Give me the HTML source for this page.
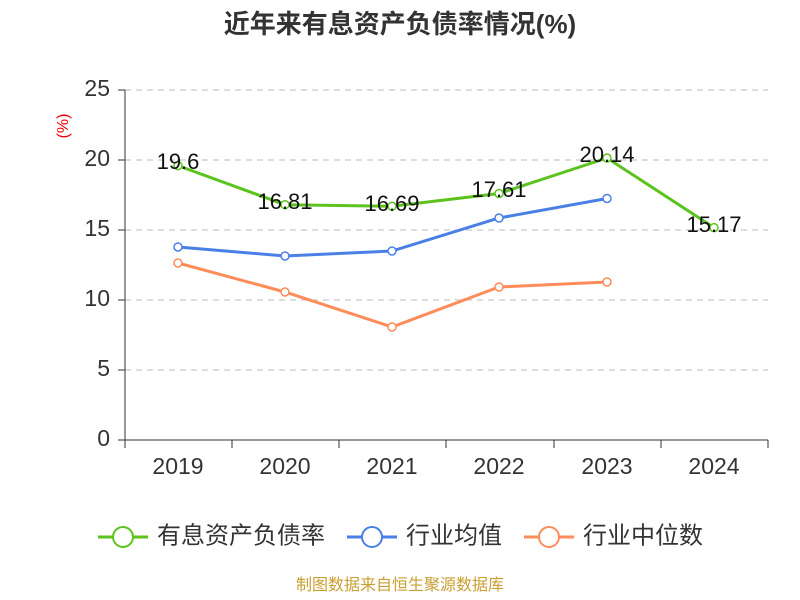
<!DOCTYPE html>
<html><head><meta charset="utf-8"><style>
html,body{margin:0;padding:0;background:#fff;}
svg{display:block;font-family:"Liberation Sans","Noto Sans CJK SC",sans-serif;}
</style></head><body>
<svg width="800" height="600" viewBox="0 0 800 600" xmlns="http://www.w3.org/2000/svg">
<text x="400" y="33" text-anchor="middle" font-size="26" font-weight="bold" fill="#333">近年来有息资产负债率情况(%)</text>
<text x="64" y="126" font-size="16" fill="#e00" transform="rotate(-90 64 126)" text-anchor="middle" dominant-baseline="middle">(%)</text>
<g stroke="#bbb" stroke-dasharray="6,5" stroke-width="1">
<line x1="125" y1="90" x2="768" y2="90"/><line x1="125" y1="160" x2="768" y2="160"/>
<line x1="125" y1="230" x2="768" y2="230"/><line x1="125" y1="300" x2="768" y2="300"/>
<line x1="125" y1="370" x2="768" y2="370"/>
</g>
<g stroke="#333" stroke-width="1">
<line x1="125" y1="90" x2="125" y2="440"/>
<line x1="125" y1="440" x2="768" y2="440"/>
<line x1="118" y1="90" x2="125" y2="90"/><line x1="118" y1="160" x2="125" y2="160"/>
<line x1="118" y1="230" x2="125" y2="230"/><line x1="118" y1="300" x2="125" y2="300"/>
<line x1="118" y1="370" x2="125" y2="370"/><line x1="118" y1="440" x2="125" y2="440"/>
<line x1="125" y1="440" x2="125" y2="448"/><line x1="232" y1="440" x2="232" y2="448"/>
<line x1="339" y1="440" x2="339" y2="448"/><line x1="446" y1="440" x2="446" y2="448"/>
<line x1="554" y1="440" x2="554" y2="448"/><line x1="661" y1="440" x2="661" y2="448"/>
<line x1="768" y1="440" x2="768" y2="448"/>
</g>
<g font-size="23" fill="#333" text-anchor="end" dominant-baseline="middle">
<text x="110" y="90">25</text><text x="110" y="160">20</text><text x="110" y="230">15</text>
<text x="110" y="300">10</text><text x="110" y="370">5</text><text x="110" y="440">0</text>
</g>
<g font-size="23" fill="#333" text-anchor="middle">
<text x="178" y="474">2019</text><text x="285" y="474">2020</text><text x="392" y="474">2021</text>
<text x="499" y="474">2022</text><text x="607" y="474">2023</text><text x="714" y="474">2024</text>
</g>
<g fill="none" stroke-width="3">
<polyline stroke="#ff8c5a" points="178,263 285,292 392,327 499,287 607,282"/>
<polyline stroke="#4a80e6" points="178,247 285,256 392,251 499,218 607,198.5"/>
<polyline stroke="#5cc31e" points="178,165.6 285,204.7 392,206.3 499,193.5 607,158 714,227.6"/>
</g>
<g fill="#fff" stroke-width="1.5">
<g stroke="#ff8c5a"><circle cx="178" cy="263" r="4"/><circle cx="285" cy="292" r="4"/><circle cx="392" cy="327" r="4"/><circle cx="499" cy="287" r="4"/><circle cx="607" cy="282" r="4"/></g>
<g stroke="#4a80e6"><circle cx="178" cy="247" r="4"/><circle cx="285" cy="256" r="4"/><circle cx="392" cy="251" r="4"/><circle cx="499" cy="218" r="4"/><circle cx="607" cy="198.5" r="4"/></g>
<g stroke="#5cc31e"><circle cx="178" cy="165.6" r="4"/><circle cx="285" cy="204.7" r="4"/><circle cx="392" cy="206.3" r="4"/><circle cx="499" cy="193.5" r="4"/><circle cx="607" cy="158" r="4"/><circle cx="714" cy="227.6" r="4"/></g>
</g>
<g font-size="22" fill="#111" text-anchor="middle" dominant-baseline="middle">
<text x="178" y="163">19.6</text><text x="285" y="203">16.81</text><text x="392" y="205">16.69</text>
<text x="499" y="191">17.61</text><text x="607" y="156">20.14</text><text x="714" y="226">15.17</text>
</g>
<g stroke-width="3" fill="#fff">
<line x1="98" y1="537" x2="148" y2="537" stroke="#5cc31e"/><circle cx="123" cy="537" r="10" stroke="#5cc31e" stroke-width="2"/>
<line x1="347" y1="537" x2="397" y2="537" stroke="#4a80e6"/><circle cx="372" cy="537" r="10" stroke="#4a80e6" stroke-width="2"/>
<line x1="524" y1="537" x2="574" y2="537" stroke="#ff8c5a"/><circle cx="549" cy="537" r="10" stroke="#ff8c5a" stroke-width="2"/>
</g>
<g font-size="24" fill="#333" dominant-baseline="middle">
<text x="157" y="537">有息资产负债率</text><text x="406" y="537">行业均值</text><text x="583" y="537">行业中位数</text>
</g>
<text x="400" y="590" text-anchor="middle" font-size="16" fill="#c8a032">制图数据来自恒生聚源数据库</text>
</svg>
</body></html>
